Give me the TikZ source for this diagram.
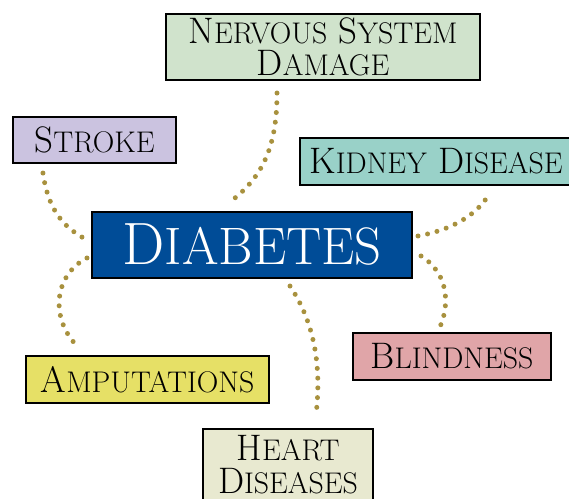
\documentclass[tikz,border=0pt]{standalone}
\usepackage{tikz}
\usetikzlibrary{calc}
\usepackage{xcolor}

\definecolor{nervgreen}{HTML}{D0E3CC}
\definecolor{strokelilac}{HTML}{CBC3E0}
\definecolor{kidneyteal}{HTML}{99D1C8}
\definecolor{diabblue}{HTML}{004C97}
\definecolor{amputyellow}{HTML}{E6E066}
\definecolor{blindpink}{HTML}{E0A5A8}
\definecolor{heartcream}{HTML}{E8E9D0}
\definecolor{dotgold}{HTML}{A8913E}

% first letter large, the rest as tall small capitals
\newcommand{\tcap}[2]{#1{\fontsize{17}{18}\selectfont #2}}
\newcommand{\tbigcap}[2]{#1{\fontsize{30}{34}\selectfont #2}}

\begin{document}
\begin{tikzpicture}[
				x=0.02cm,y=-0.02cm,
				disease/.style={draw,line width=1.2pt,rectangle,inner sep=0pt,align=center,font=\fontsize{21}{18.5}\selectfont},
				dotline/.style={draw=dotgold,line width=0.1cm,line cap=round,dash pattern=on 0pt off 0.195cm}
				]
				\useasboundingbox (0,0) rectangle (569,499);
				
				\node[disease,fill=nervgreen,minimum width=6.28cm,minimum height=1.32cm] (nerv) at (323,47) {\tcap{N}{ERVOUS} \tcap{S}{YSTEM}\\\tcap{D}{AMAGE}};
				\node[disease,fill=strokelilac,minimum width=3.26cm,minimum height=0.92cm] (stroke) at (94.5,140) {\tcap{S}{TROKE}};
				\node[disease,fill=kidneyteal,minimum width=5.44cm,minimum height=0.94cm] (kidney) at (436,161.5) {\tcap{K}{IDNEY} \tcap{D}{ISEASE}};
				\node[disease,fill=diabblue,text=white,minimum width=6.4cm,minimum height=1.32cm,font=\fontsize{34}{36}\selectfont] (diab) at (252,245) {\tbigcap{D}{IABETES}};
				\node[disease,fill=amputyellow,minimum width=4.86cm,minimum height=0.94cm] (amput) at (147.5,379.5) {\tcap{A}{MPUTATIONS}};
				\node[disease,fill=blindpink,minimum width=3.96cm,minimum height=0.94cm] (blind) at (452,356.5) {\tcap{B}{LINDNESS}};
				\node[disease,fill=heartcream,minimum width=3.4cm,minimum height=1.42cm,anchor=north] (heart) at (288,428) {\tcap{H}{EART}\\\tcap{D}{ISEASES}};
				
				% dotted links
				\draw[dotline] ([shift={(-46,12)}]nerv.south) .. controls ([shift={(-46,70)}]nerv.south) and ([shift={(8,-32)}]diab.north) .. ([shift={(-22,-9)}]diab.north);
				\draw[dotline] ([shift={(31,9)}]stroke.south west) .. controls ([shift={(37,52)}]stroke.south west) and ([shift={(-22,-15)}]diab.west) .. ([shift={(-4,-5)}]diab.west);
				\draw[dotline] ([shift={(-4,13)}]diab.west) .. controls ([shift={(-37,30)}]diab.west) and ([shift={(24,-36)}]amput.north west) .. ([shift={(54,-7)}]amput.north west);
				\draw[dotline] ([shift={(5,-9)}]diab.east) .. controls ([shift={(38,-15)}]diab.east) and ([shift={(39,30)}]kidney.south) .. ([shift={(52,10)}]kidney.south);
				\draw[dotline] ([shift={(8,11)}]diab.east) .. controls ([shift={(38,30)}]diab.east) and ([shift={(97,-23)}]blind.north west) .. ([shift={(87,-3)}]blind.north west);
				\draw[dotline] ([shift={(38,7)}]diab.south) .. controls ([shift={(68,52)}]diab.south) and ([shift={(32,-48)}]heart.north) .. ([shift={(28,-13)}]heart.north);
				
			\end{tikzpicture}
\end{document}
